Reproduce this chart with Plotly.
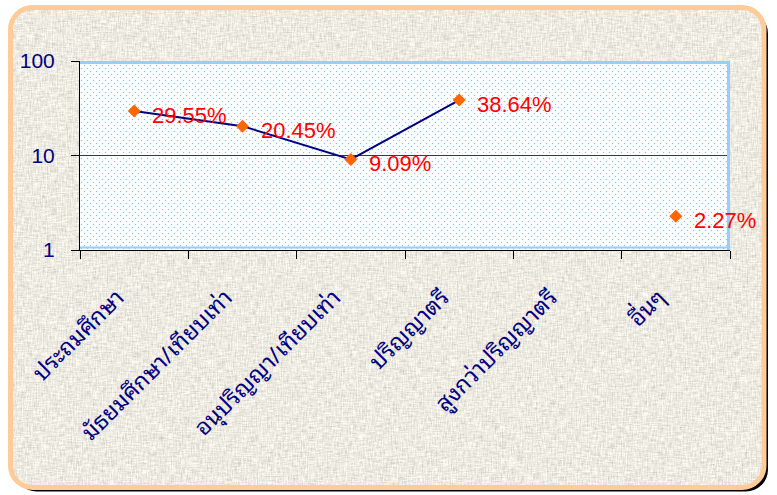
import base64
import math
import plotly.graph_objects as go

# Education level shares (percent); no value for the 5th category
categories = [
    "ประถมศึกษา",
    "มัธยมศึกษา/เทียบเท่า",
    "อนุปริญญา/เทียบเท่า",
    "ปริญญาตรี",
    "สูงกว่าปริญญาตรี",
    "อื่นๆ",
]
percent = [29.55, 20.45, 9.09, 38.64, None, 2.27]
y_tick_vals = [1, 10, 100]
y_tick_text = ["1", "10", "100"]

W, H = 777, 495
ML, MR, MT, MB = 80, 47, 61, 245
PW, PH = W - ML - MR, H - MT - MB

NAVY = "#000080"
FONT = "Liberation Sans, Arial, sans-serif"
THAI_FONT = "Noto Sans Thai Looped, Loma, Garuda, Tahoma, sans-serif"

# Backdrop: linen-textured rounded card with shadow, plus dotted plot panel
svg = f"""<svg xmlns="http://www.w3.org/2000/svg" width="{W}" height="{H}" viewBox="0 0 {W} {H}">
<defs>
 <filter id="tex" x="0" y="0" width="100%" height="100%">
  <feTurbulence type="fractalNoise" baseFrequency="0.8 0.12" numOctaves="2" seed="4" result="v"/>
  <feTurbulence type="fractalNoise" baseFrequency="0.12 0.8" numOctaves="2" seed="9" result="h"/>
  <feComposite in="v" in2="h" operator="arithmetic" k1="0" k2="0.5" k3="0.5" k4="0" result="m"/>
  <feColorMatrix in="m" type="matrix" values="0.8 0 0 0 0.45  0.8 0 0 0 0.425  0.8 0 0 0 0.36  0 0 0 0 1"/>
 </filter>
 <clipPath id="card"><rect x="10.5" y="7.5" width="753.5" height="480" rx="22"/></clipPath>
 <pattern id="dots" x="{ML}" y="{MT}" width="6" height="6" patternUnits="userSpaceOnUse">
  <circle cx="1.5" cy="1.5" r="0.75" fill="#8DC2F0"/>
  <circle cx="4.5" cy="4.5" r="0.75" fill="#8DC2F0"/>
 </pattern>
</defs>
<rect width="{W}" height="{H}" fill="#FFFFFF"/>
<rect x="14.5" y="11.5" width="753.5" height="480" rx="22" fill="#000000"/>
<rect x="10.5" y="7.5" width="753.5" height="480" rx="22" fill="#D8CFBD"/>
<g clip-path="url(#card)"><rect x="0" y="0" width="{W}" height="{H}" filter="url(#tex)"/></g>
<rect x="10.5" y="7.5" width="753.5" height="480" rx="22" fill="none" stroke="#FFCC99" stroke-width="5"/>
<rect x="{ML}" y="{MT}" width="{PW}" height="{PH}" fill="#FFFFFF"/>
<rect x="{ML}" y="{MT}" width="{PW}" height="{PH}" fill="url(#dots)"/>
</svg>"""
backdrop = "data:image/svg+xml;base64," + base64.b64encode(svg.encode()).decode()

fig = go.Figure()

fig.add_trace(go.Scatter(
    x=categories,
    y=percent,
    mode="lines+markers",
    connectgaps=False,
    line=dict(color=NAVY, width=2),
    marker=dict(symbol="diamond", size=10, color="#FF6600"),
    hoverinfo="skip",
    showlegend=False,
))

# Percentage labels beside each point
for cat, v in zip(categories, percent):
    if v is None:
        continue
    fig.add_annotation(
        x=cat, y=math.log10(v), xref="x", yref="y",
        text=f"{v:.2f}%", showarrow=False,
        xanchor="left", yanchor="middle", xshift=16, yshift=-4,
        font=dict(family=FONT, size=22, color="#FF0000"),
    )

# Light-blue frame around the plot panel
blue = dict(color="#99CCFF", width=3)
fig.add_shape(type="line", xref="paper", yref="paper", x0=0, x1=1,
              y0=1 - 1.5 / PH, y1=1 - 1.5 / PH, line=blue, layer="above")
fig.add_shape(type="line", xref="paper", yref="paper", x0=1 - 1.5 / PW, x1=1 - 1.5 / PW,
              y0=0, y1=1, line=blue, layer="above")
fig.add_shape(type="line", xref="paper", yref="paper", x0=0, x1=1,
              y0=2.5 / PH, y1=2.5 / PH, line=dict(color="#99CCFF", width=2), layer="above")

fig.add_layout_image(
    source=backdrop, xref="paper", yref="paper",
    x=-ML / PW, y=1 + MT / PH, sizex=W / PW, sizey=H / PH,
    xanchor="left", yanchor="top", sizing="stretch", layer="below",
)

fig.update_layout(
    width=W, height=H,
    margin=dict(l=ML, r=MR, t=MT, b=MB, pad=0),
    paper_bgcolor="rgba(0,0,0,0)",
    plot_bgcolor="rgba(0,0,0,0)",
    font=dict(family=FONT, color=NAVY),
)

# Category labels carry a little trailing space so they sit left of the tick centre
fig.update_xaxes(
    type="category", categoryorder="array", categoryarray=categories,
    tickvals=categories, ticktext=[c + "\u00a0" * 4 for c in categories],
    range=[-0.5, 5.5],
    showline=True, linecolor="#000000", linewidth=1,
    ticks="outside", tickson="boundaries", ticklen=8, tickcolor="#000000",
    tickangle=-45, ticklabelstandoff=7,
    tickfont=dict(family=THAI_FONT, size=23, color=NAVY),
    showgrid=False, zeroline=False,
)
fig.update_yaxes(
    type="log", range=[0, 2],
    tickvals=y_tick_vals, ticktext=y_tick_text,
    showline=True, linecolor="#000000", linewidth=1,
    ticks="outside", ticklen=8, tickcolor="#000000",
    ticklabelstandoff=12,
    tickfont=dict(family=FONT, size=21, color=NAVY),
    showgrid=True, gridcolor="#3A3A3A", gridwidth=1,
    zeroline=False,
)

fig.write_html("out.html")
